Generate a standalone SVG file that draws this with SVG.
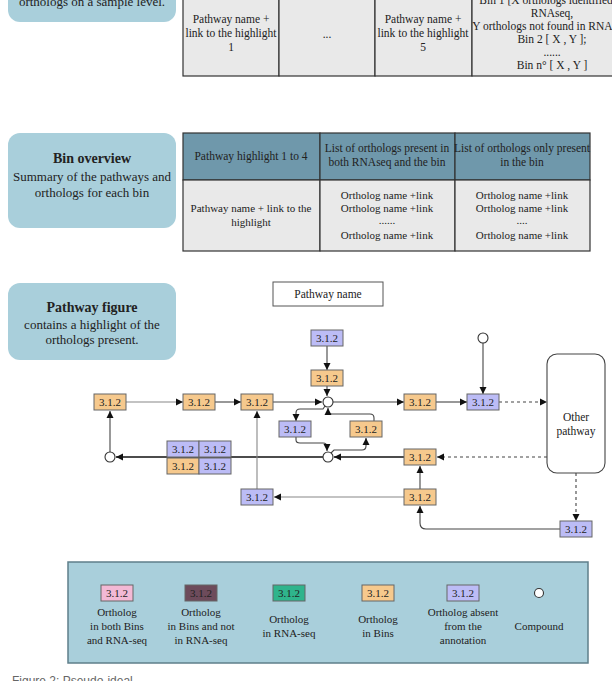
<svg xmlns="http://www.w3.org/2000/svg" width="612" height="681" viewBox="0 0 612 681">
<defs>
<style>
text{font-family:"Liberation Serif","Times New Roman",serif;fill:#222}
.t{font-size:11.5px;text-anchor:middle}
.th{font-size:11.5px;text-anchor:middle}
.tb{font-size:11px;text-anchor:middle}
.tl{font-size:11px;text-anchor:middle}
.side{fill:#a9cfdb}
.cell{fill:#e9e9e9;stroke:#333;stroke-width:1.2}
.head{fill:#6f98ab;stroke:#333;stroke-width:1.2}
.en{stroke:#666;stroke-width:1}
.or{fill:#f6c98d}
.bl{fill:#bcbcf6}
.el{font-size:11px;text-anchor:middle;fill:#222}
.cp{fill:#fff;stroke:#333;stroke-width:1.1}
.ln{fill:none;stroke:#444;stroke-width:1.1;marker-end:url(#ah)}
.lg{fill:none;stroke:#888;stroke-width:1.1;marker-end:url(#ah)}
.ld{fill:none;stroke:#444;stroke-width:1.1;stroke-dasharray:3 3;marker-end:url(#ah)}
.lb{fill:none;stroke:#111;stroke-width:1.4;marker-end:url(#ah)}
</style>
<marker id="ah" markerWidth="8" markerHeight="8" refX="7" refY="4" orient="auto" markerUnits="userSpaceOnUse">
<path d="M0,0.5 L7,4 L0,7.5 Z" fill="#111"/>
</marker>
</defs>
<rect width="612" height="681" fill="#fff"/>

<!-- Top section (cropped) -->
<g id="sample-box">
<rect class="side" x="8" y="-30" width="168" height="52" rx="12"/>
<text x="92" y="6" font-size="13" text-anchor="middle">orthologs on a sample level.</text>
</g>
<g id="sample-table">
<rect class="cell" x="183" y="-10" width="96" height="86"/>
<rect class="cell" x="279" y="-10" width="96" height="86"/>
<rect class="cell" x="375" y="-10" width="97" height="86"/>
<rect class="cell" x="472" y="-10" width="160" height="86"/>
<text class="t" x="231" y="23">Pathway name +</text>
<text class="t" x="231" y="37">link to the highlight</text>
<text class="t" x="231" y="51">1</text>
<text class="t" x="327" y="38">...</text>
<text class="t" x="423" y="23">Pathway name +</text>
<text class="t" x="423" y="37">link to the highlight</text>
<text class="t" x="423" y="51">5</text>
<text class="t" x="552" y="4">Bin 1 [X orthologs identified in</text>
<text class="t" x="552" y="17">RNAseq,</text>
<text class="t" x="552" y="30">Y orthologs not found in RNAseq]</text>
<text class="t" x="552" y="43">Bin 2 [ X , Y ];</text>
<text class="t" x="552" y="56" font-size="8">......</text>
<text class="t" x="552" y="69">Bin n° [ X , Y ]</text>
</g>

<!-- Bin overview -->
<g id="bin-box">
<rect class="side" x="8" y="133" width="168" height="95" rx="12"/>
<text x="92" y="163" font-size="14" font-weight="bold" text-anchor="middle">Bin overview</text>
<text x="92" y="181" font-size="13" text-anchor="middle">Summary of the pathways and</text>
<text x="92" y="197" font-size="13" text-anchor="middle">orthologs for each bin</text>
</g>
<g id="bin-table">
<rect class="head" x="183" y="133" width="137" height="47"/>
<rect class="head" x="320" y="133" width="135" height="47"/>
<rect class="head" x="455" y="133" width="135" height="47"/>
<rect class="cell" x="183" y="180" width="137" height="71"/>
<rect class="cell" x="320" y="180" width="135" height="71"/>
<rect class="cell" x="455" y="180" width="135" height="71"/>
<text class="th" x="251" y="160">Pathway highlight 1 to 4</text>
<text class="th" x="387" y="152">List of orthologs present in</text>
<text class="th" x="387" y="166">both RNAseq and the bin</text>
<text class="th" x="522" y="152">List of orthologs only present</text>
<text class="th" x="522" y="166">in the bin</text>
<text class="tb" x="251" y="212">Pathway name + link to the</text>
<text class="tb" x="251" y="226">highlight</text>
<text class="tb" x="387" y="199">Ortholog name +link</text>
<text class="tb" x="387" y="212">Ortholog name +link</text>
<text class="tb" x="387" y="224" font-size="7">......</text>
<text class="tb" x="387" y="239">Ortholog name +link</text>
<text class="tb" x="522" y="199">Ortholog name +link</text>
<text class="tb" x="522" y="212">Ortholog name +link</text>
<text class="tb" x="522" y="224" font-size="7">....</text>
<text class="tb" x="522" y="239">Ortholog name +link</text>
</g>

<!-- Pathway figure -->
<g id="pathway-box">
<rect class="side" x="8" y="283" width="168" height="77" rx="12"/>
<text x="92" y="312" font-size="14" font-weight="bold" text-anchor="middle">Pathway figure</text>
<text x="92" y="329" font-size="13" text-anchor="middle">contains a highlight of the</text>
<text x="92" y="344" font-size="13" text-anchor="middle">orthologs present.</text>
</g>
<g id="pathway-name">
<rect x="273" y="282" width="110" height="24" fill="#fff" stroke="#555" stroke-width="1"/>
<text class="t" x="328" y="298">Pathway name</text>
</g>

<g id="connectors">
<path class="lg" d="M126,402 H183"/>
<path class="ln" d="M215,402 H241"/>
<path class="ln" d="M273,402 H322"/>
<path class="ln" d="M333,402 H404"/>
<path class="ln" d="M436,402 H467"/>
<path class="ld" d="M499,402 H547"/>
<path class="ln" d="M327,346 V370"/>
<path class="ln" d="M327,386 V396"/>
<path class="ln" d="M483,343 V394"/>
<path class="ln" d="M325,406 L323,409 H300 Q296,409 296,413 V421"/>
<path class="ln" d="M374,421 V418 Q374,414 370,414 H332 Q328,414 328,411 V408"/>
<path class="ln" d="M296,437 V440 Q296,443 300,443 H323 Q327,443 327,447 V451"/>
<path class="ln" d="M331,453 L334,450 H362 Q366,450 366,446 V438"/>
<path class="lb" d="M404,457 H334"/>
<path class="lb" d="M323,457 H116"/>
<path class="ln" d="M110,452 V411"/>
<path class="ld" d="M547,457 H437"/>
<path class="ln" d="M420,489 V466"/>
<path class="lg" d="M404,497 H274"/>
<path class="lg" d="M257,489 V411"/>
<path class="ld" d="M576,473 V521"/>
<path class="ln" d="M560,529 H426 Q420,529 420,523 V506"/>
</g>

<g id="n-a"><rect class="en or" x="94" y="394" width="32" height="16"/><text class="el" x="110" y="406">3.1.2</text></g>
<g id="n-b"><rect class="en or" x="183" y="394" width="32" height="16"/><text class="el" x="199" y="406">3.1.2</text></g>
<g id="n-c"><rect class="en or" x="241" y="394" width="32" height="16"/><text class="el" x="257" y="406">3.1.2</text></g>
<g id="c-1"><circle class="cp" cx="328" cy="402" r="5"/></g>
<g id="n-d"><rect class="en or" x="404" y="394" width="32" height="16"/><text class="el" x="420" y="406">3.1.2</text></g>
<g id="n-e"><rect class="en bl" x="467" y="394" width="32" height="16"/><text class="el" x="483" y="406">3.1.2</text></g>
<g id="n-f"><rect class="en bl" x="311" y="330" width="32" height="16"/><text class="el" x="327" y="342">3.1.2</text></g>
<g id="n-g"><rect class="en or" x="311" y="370" width="32" height="16"/><text class="el" x="327" y="382">3.1.2</text></g>
<g id="c-2"><circle class="cp" cx="483" cy="338" r="5"/></g>
<g id="other-pathway">
<rect x="547" y="354" width="58" height="119" rx="10" fill="#fff" stroke="#444" stroke-width="1.1"/>
<text class="t" x="576" y="421">Other</text>
<text class="t" x="576" y="435">pathway</text>
</g>
<g id="n-h"><rect class="en bl" x="279" y="421" width="32" height="16"/><text class="el" x="295" y="433">3.1.2</text></g>
<g id="n-i"><rect class="en or" x="350" y="421" width="32" height="16"/><text class="el" x="366" y="433">3.1.2</text></g>
<g id="c-3"><circle class="cp" cx="328" cy="457" r="5"/></g>
<g id="n-j"><rect class="en or" x="404" y="449" width="32" height="16"/><text class="el" x="420" y="461">3.1.2</text></g>
<g id="c-4"><circle class="cp" cx="110" cy="457" r="5"/></g>
<g id="n-stack">
<rect class="en bl" x="167" y="441" width="32" height="16"/><text class="el" x="183" y="453">3.1.2</text>
<rect class="en bl" x="199" y="441" width="32" height="16"/><text class="el" x="215" y="453">3.1.2</text>
<rect class="en or" x="167" y="458" width="32" height="16"/><text class="el" x="183" y="470">3.1.2</text>
<rect class="en bl" x="199" y="458" width="32" height="16"/><text class="el" x="215" y="470">3.1.2</text>
</g>
<g id="n-k"><rect class="en bl" x="241" y="489" width="32" height="16"/><text class="el" x="257" y="501">3.1.2</text></g>
<g id="n-l"><rect class="en or" x="404" y="489" width="32" height="16"/><text class="el" x="420" y="501">3.1.2</text></g>
<g id="n-m"><rect class="en bl" x="560" y="521" width="32" height="16"/><text class="el" x="576" y="533">3.1.2</text></g>

<!-- Legend -->
<g id="legend">
<rect x="68" y="562" width="520" height="101" fill="#a9cfdb" stroke="#5f7f8a" stroke-width="1.5"/>
<rect class="en" x="101" y="585" width="32" height="16" fill="#f3b9d5"/><text class="el" x="117" y="597">3.1.2</text>
<rect class="en" x="185" y="585" width="32" height="16" fill="#6d4b5b"/><text class="el" x="201" y="597">3.1.2</text>
<rect class="en" x="273" y="585" width="32" height="16" fill="#2fb48c"/><text class="el" x="289" y="597">3.1.2</text>
<rect class="en or" x="362" y="585" width="32" height="16"/><text class="el" x="378" y="597">3.1.2</text>
<rect class="en bl" x="447" y="585" width="32" height="16"/><text class="el" x="463" y="597">3.1.2</text>
<circle class="cp" cx="539" cy="593" r="4.5"/>
<text class="tl" x="117" y="616">Ortholog</text>
<text class="tl" x="117" y="630">in both Bins</text>
<text class="tl" x="117" y="644">and RNA-seq</text>
<text class="tl" x="201" y="616">Ortholog</text>
<text class="tl" x="201" y="630">in Bins and not</text>
<text class="tl" x="201" y="644">in RNA-seq</text>
<text class="tl" x="289" y="623">Ortholog</text>
<text class="tl" x="289" y="637">in RNA-seq</text>
<text class="tl" x="378" y="623">Ortholog</text>
<text class="tl" x="378" y="637">in Bins</text>
<text class="tl" x="463" y="616">Ortholog absent</text>
<text class="tl" x="463" y="630">from the</text>
<text class="tl" x="463" y="644">annotation</text>
<text class="tl" x="539" y="630">Compound</text>
</g>

<text x="12" y="685" font-size="12" style="font-family:'Liberation Sans',Arial,sans-serif;fill:#666">Figure 2: Pseudo-ideal</text>
</svg>
